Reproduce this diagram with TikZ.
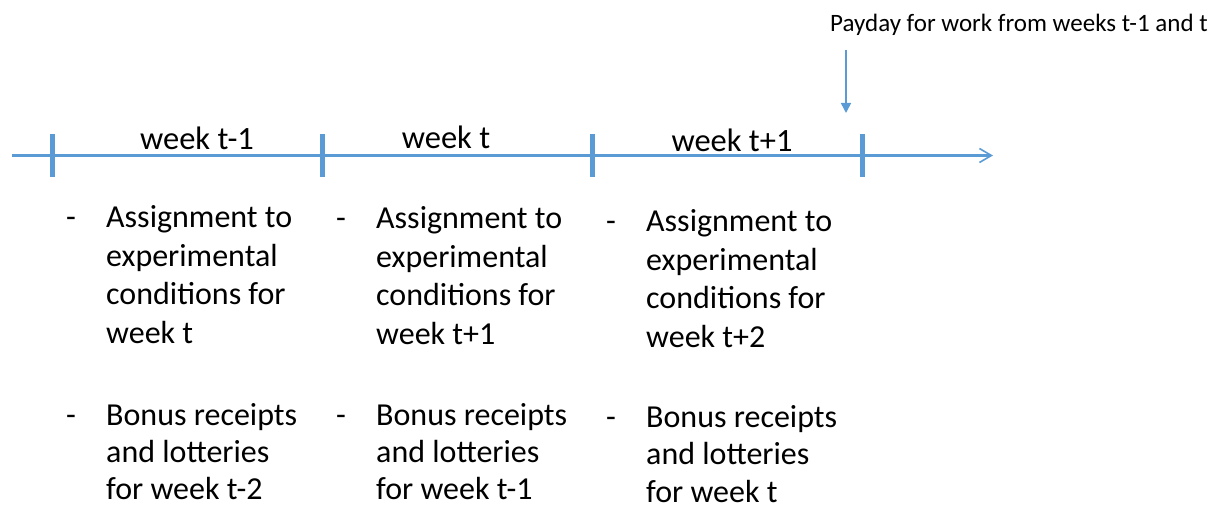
\documentclass[tikz,border=0pt]{standalone}
\usepackage{fontspec}
\setmainfont{Carlito}
\usetikzlibrary{arrows.meta}
\definecolor{axisblue}{HTML}{5B9BD5}
\tikzset{
  axisline/.style={draw=axisblue, line width=2.2pt},
  tickmark/.style={draw=axisblue, line width=5pt},
  payarrow/.style={draw=axisblue, line width=1.5pt,
    -{Triangle[length=10pt,width=10pt]}},
  weeklabel/.style={anchor=base, inner sep=0pt, font=\fontsize{32.5}{38.5}\selectfont},
  itemtext/.style={anchor=base west, inner sep=0pt, font=\fontsize{32}{38.5}\selectfont},
  paytext/.style={anchor=base west, inner sep=0pt, font=\fontsize{25}{30}\selectfont}
}
% stack of lines with a fixed baseline distance; baseline of the first line
\newcommand{\linestack}[2]{\vtop{\baselineskip=#1\lineskiplimit=-100pt\relax #2}}
\newcommand{\tline}[1]{\hbox{#1}}
\begin{document}
\begin{tikzpicture}[x=1pt, y=-1pt]
  \useasboundingbox (0,0) rectangle (1216,505);

  % time axis
  \coordinate (axstart) at (12,155.5);
  \coordinate (axend) at (993,155.5);
  \draw[axisline, -{Straight Barb[length=12pt,width=14pt,line width=1.6pt]}] (axstart) -- (axend);

  % week boundaries
  \foreach \name/\x in {b1/52, b2/322, b3/592.5, b4/862.5} {
    \coordinate (\name top) at (\x,134.5);
    \coordinate (\name bot) at (\x,177.5);
    \draw[tickmark] (\name top) -- (\name bot);
  }

  % week names
  \node[weeklabel] (wk1) at (197,150) {week t-1};
  \node[weeklabel] (wk2) at (446,149) {week t};
  \node[weeklabel] (wk3) at (732,152) {week t+1};

  % payday marker
  \node[paytext] (payday) at (830,32) {Payday for work from weeks t-1 and t};
  \coordinate (paystart) at (846,50);
  \coordinate (payend) at (846,113);
  \draw[payarrow] (paystart) -- (payend);

  % column 1
  \node[itemtext] (d1a) at (66,228) {-};
  \node[itemtext] (c1a) at (106,228) {\linestack{38.5pt}{\tline{Assignment to}\tline{experimental}\tline{conditions for}\tline{week t}}};
  \node[itemtext] (d1b) at (66,425) {-};
  \node[itemtext] (c1b) at (106,425) {\linestack{37pt}{\tline{Bonus receipts}\tline{and lotteries}\tline{for week t-2}}};

  % column 2
  \node[itemtext] (d2a) at (336,229) {-};
  \node[itemtext] (c2a) at (376,229) {\linestack{38.5pt}{\tline{Assignment to}\tline{experimental}\tline{conditions for}\tline{week t+1}}};
  \node[itemtext] (d2b) at (336,425) {-};
  \node[itemtext] (c2b) at (376,425) {\linestack{37pt}{\tline{Bonus receipts}\tline{and lotteries}\tline{for week t-1}}};

  % column 3
  \node[itemtext] (d3a) at (606,232) {-};
  \node[itemtext] (c3a) at (646,232) {\linestack{38.5pt}{\tline{Assignment to}\tline{experimental}\tline{conditions for}\tline{week t+2}}};
  \node[itemtext] (d3b) at (606,427) {-};
  \node[itemtext] (c3b) at (646,427) {\linestack{37.5pt}{\tline{Bonus receipts}\tline{and lotteries}\tline{for week t}}};
\end{tikzpicture}
\end{document}
